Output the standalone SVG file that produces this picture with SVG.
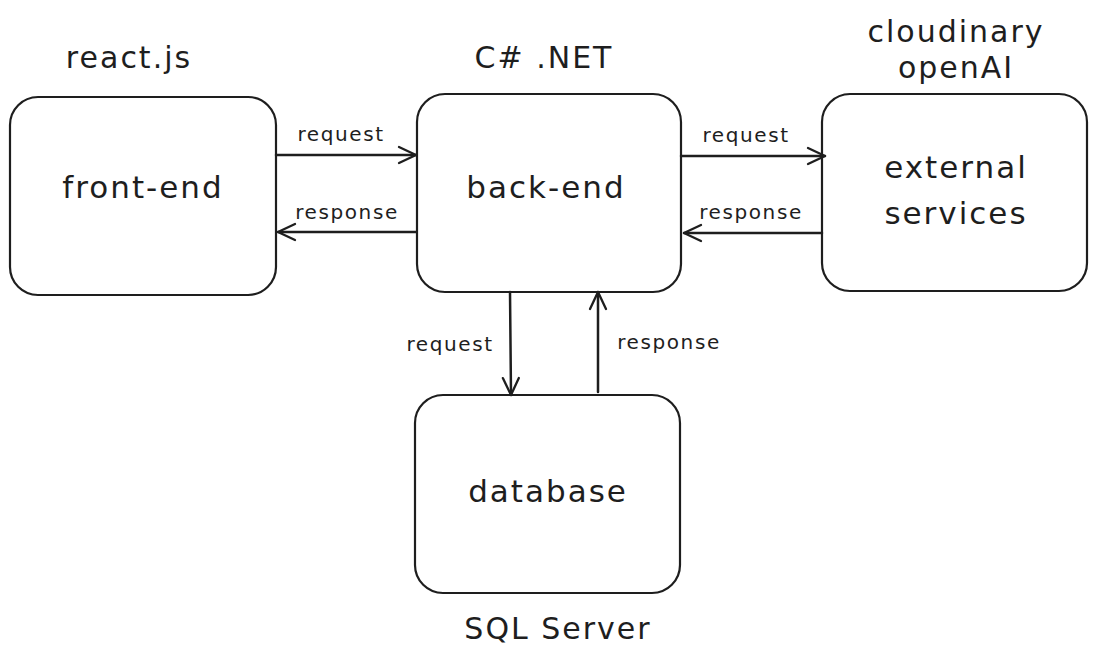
<svg xmlns="http://www.w3.org/2000/svg" width="1097" height="660" viewBox="0 0 1097 660">
<style>
.box{fill:#fff;stroke:#1e1e1e;stroke-width:2.2}
.edge{fill:none;stroke:#1e1e1e;stroke-width:2.5;stroke-linecap:round}
.t{font-family:"DejaVu Sans","Liberation Sans",sans-serif;fill:#1e1e1e;text-anchor:middle}
.big{font-size:31px;letter-spacing:2px}
.hdr{font-size:30px;letter-spacing:2px}
.lbl{font-size:20px;letter-spacing:1.6px}
</style>
<defs>
<marker id="ah" viewBox="0 0 22 22" refX="20" refY="11" markerWidth="22" markerHeight="22" markerUnits="userSpaceOnUse" orient="auto">
<path d="M3,3 L20,11 L3,19" fill="none" stroke="#1e1e1e" stroke-width="2.3" stroke-linecap="round" stroke-linejoin="round"/>
</marker>
</defs>
<rect width="1097" height="660" fill="#fff"/>
<g id="front-end">
<rect class="box" x="10" y="97" width="266" height="198" rx="28"/>
<text class="t big" x="143" y="198">front-end</text>
<text class="t hdr" x="129" y="68">react.js</text>
</g>
<g id="back-end">
<rect class="box" x="417" y="94" width="264" height="198" rx="28"/>
<text class="t big" x="546" y="198">back-end</text>
<text class="t hdr" x="544" y="68">C# .NET</text>
</g>
<g id="external-services">
<rect class="box" x="822" y="94" width="265" height="197" rx="28"/>
<text class="t big" x="956" y="178">external</text>
<text class="t big" x="956" y="224">services</text>
<text class="t hdr" x="956" y="42">cloudinary</text>
<text class="t hdr" x="956" y="78">openAI</text>
</g>
<g id="database">
<rect class="box" x="415" y="395" width="265" height="198" rx="28"/>
<text class="t big" x="548" y="502">database</text>
<text class="t hdr" x="558" y="639">SQL Server</text>
</g>
<g id="connectors">
<path class="edge" d="M276,155 L416,155" marker-end="url(#ah)"/>
<path class="edge" d="M416,232 L278,232" marker-end="url(#ah)"/>
<path class="edge" d="M681,156 L825,156" marker-end="url(#ah)"/>
<path class="edge" d="M822,233 L684,233" marker-end="url(#ah)"/>
<path class="edge" d="M510,292 L511,395" marker-end="url(#ah)"/>
<path class="edge" d="M598,392 L598,292" marker-end="url(#ah)"/>
<text class="t lbl" x="341" y="141">request</text>
<text class="t lbl" x="347" y="219">response</text>
<text class="t lbl" x="746" y="142">request</text>
<text class="t lbl" x="751" y="219">response</text>
<text class="t lbl" x="450" y="351">request</text>
<text class="t lbl" x="669" y="349">response</text>
</g>
</svg>
